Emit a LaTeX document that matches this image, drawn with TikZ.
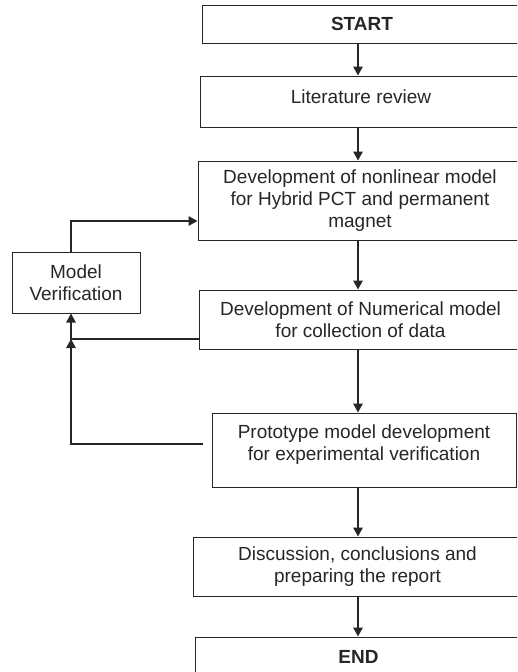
\documentclass[tikz,border=0pt]{standalone}
\usepackage{fontspec}
\setmainfont{Liberation Sans}
\usetikzlibrary{arrows.meta}
\begin{document}
\begin{tikzpicture}[x=1pt,y=-1pt,
  box/.style={draw=black!85, line width=1pt, inner sep=0pt, align=center,
    font=\fontsize{19}{22}\selectfont, text=black!85},
  boldbox/.style={box, font=\fontsize{19}{22}\selectfont\bfseries},
  arr/.style={draw=black!85, line width=1.4pt, -{Triangle[length=9pt,width=9.5pt]}}]
\useasboundingbox (0,0) rectangle (517,672);
\clip (0,0) rectangle (517,672);
\node[boldbox, minimum width=320pt, minimum height=38pt] (start) at (362,24) {START};
\node[box, minimum width=322pt, minimum height=51pt, text depth=10pt] (lit) at (361,101.5) {Literature review};
\node[box, minimum width=324pt, minimum height=79pt] (dev) at (360,200.5) {Development of nonlinear model\\for Hybrid PCT and permanent\\magnet};
\node[box, minimum width=323pt, minimum height=59pt] (num) at (360.5,319.5) {Development of Numerical model\\for collection of data};
\node[box, minimum width=304pt, minimum height=74pt, text depth=14pt] (proto) at (364,450) {Prototype model development\\for experimental verification};
\node[box, minimum width=329pt, minimum height=59pt] (disc) at (357.5,566.5) {Discussion, conclusions and\\preparing the report};
\node[boldbox, minimum width=327pt, minimum height=40pt] (end) at (358.5,657) {END};
\node[box, minimum width=128pt, minimum height=61pt] (mv) at (76,282.5) {Model\\Verification};
\coordinate (ax) at (358,0);
\draw[arr] (start.south -| ax) -- (lit.north -| ax);
\draw[arr] (lit.south -| ax) -- (dev.north -| ax);
\draw[arr] (dev.south -| ax) -- (num.north -| ax);
\draw[arr] (num.south -| ax) -- (proto.north -| ax);
\draw[arr] (proto.south -| ax) -- (disc.north -| ax);
\draw[arr] (disc.south -| ax) -- (end.north -| ax);
\coordinate (fa) at (71,221);
\coordinate (fb) at (71,339);
\coordinate (fc) at (71,444);
\draw[arr] (mv.north -| fa) -- (fa) -- (dev.west |- fa);
\draw[arr] (num.west |- fb) -- (fb) -- (mv.south -| fb);
\draw[arr] ([xshift=-9pt]proto.west |- fc) -- (fc) -- (fb);
\end{tikzpicture}
\end{document}
